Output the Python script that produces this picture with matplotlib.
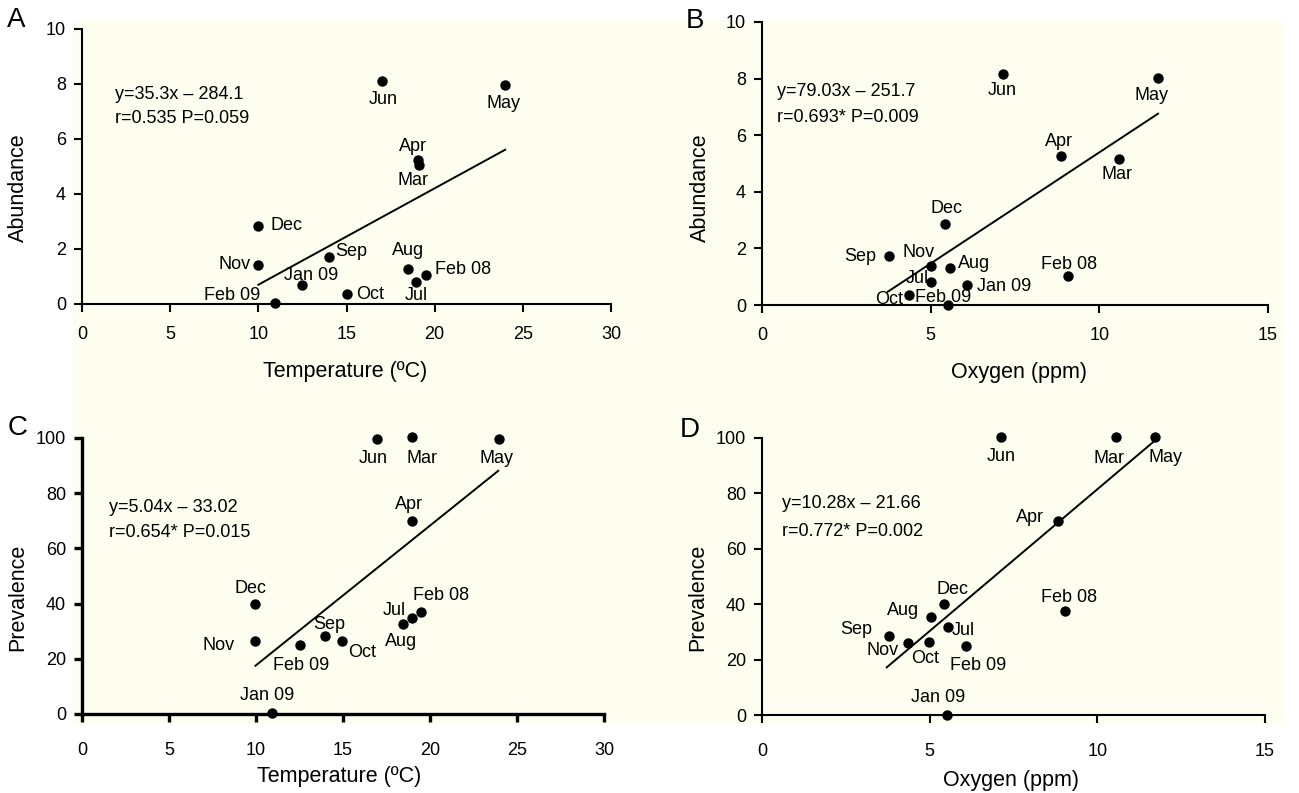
import numpy as np
import matplotlib.pyplot as plt
from matplotlib.patches import Rectangle

plt.rcParams['font.family'] = ['Liberation Sans', 'DejaVu Sans']

# ── Data ─────────────────────────────────────────────────
months = ["Feb 08", "Mar", "Apr", "May", "Jun", "Jul", "Aug",
          "Sep", "Oct", "Nov", "Dec", "Jan 09", "Feb 09"]

temp_abund = [19.5, 19.1, 19.06, 24.0, 17.0, 18.96, 18.5, 14.0, 15.0, 10.0, 10.0, 12.47, 10.96]
abundance_t = [1.05, 5.07, 5.25, 7.95, 8.1, 0.81, 1.27, 1.71, 0.36, 1.41, 2.85, 0.68, 0.02]

oxy_abund = [9.07, 10.58, 8.86, 11.74, 7.13, 5.0, 5.58, 3.76, 4.36, 5.0, 5.42, 6.07, 5.5]
abundance_o = [1.01, 5.15, 5.27, 8.02, 8.18, 0.82, 1.31, 1.74, 0.35, 1.39, 2.85, 0.71, 0.0]

temp_prev = [19.48, 18.98, 18.98, 23.97, 16.98, 18.98, 18.46, 13.98, 14.95, 9.97, 9.97, 10.92, 12.5]
prevalence_t = [37.1, 100.4, 70.0, 99.8, 99.8, 34.8, 32.7, 28.4, 26.5, 26.6, 40.0, 0.4, 25.1]

oxy_prev = [9.05, 10.57, 8.84, 11.73, 7.13, 5.55, 5.04, 3.78, 4.97, 4.35, 5.42, 5.52, 6.09]
prevalence_o = [37.6, 100.4, 69.9, 100.4, 100.4, 31.9, 35.2, 28.4, 26.4, 26.1, 40.0, 0.0, 24.8]

# regression line end points
fit_a = ([10.0, 24.0], [0.70, 5.61])
fit_b = ([3.73, 11.74], [0.47, 6.76])
fit_c = ([9.97, 23.92], [17.5, 88.1])
fit_d = ([3.72, 11.69], [17.2, 98.8])

eq_a = ["y=35.3x \u2013 284.1", "r=0.535 P=0.059"]
eq_b = ["y=79.03x \u2013 251.7", "r=0.693* P=0.009"]
eq_c = ["y=5.04x \u2013 33.02", "r=0.654* P=0.015"]
eq_d = ["y=10.28x \u2013 21.66", "r=0.772* P=0.002"]

# ── Label offsets (pixels) ───────────────────────────────
off_a = {"Jun": (1, -18, "center"), "May": (-2, -18, "center"), "Apr": (-5, 13, "center"),
         "Mar": (-6, -16, "center"), "Dec": (12, 0, "left"), "Nov": (-8, 1, "right"),
         "Sep": (6, 5, "left"), "Jan 09": (9, 10, "center"), "Feb 09": (-15, 8, "right"),
         "Oct": (10, 0, "left"), "Aug": (0, 19, "center"), "Jul": (0, -14, "center"),
         "Feb 08": (9, 6, "left")}
off_b = {"Jun": (0, -17, "center"), "May": (-7, -17, "center"), "Apr": (-2, 14, "center"),
         "Mar": (-2, -15, "center"), "Dec": (2, 16, "center"), "Sep": (-13, -1, "right"),
         "Nov": (-12, 13, "center"), "Aug": (8, 4, "left"), "Jul": (-13, 3, "center"),
         "Jan 09": (10, -2, "left"), "Oct": (-20, -4, "center"), "Feb 09": (-4, 7, "center"),
         "Feb 08": (1, 12, "center")}
off_c = {"Jun": (-4, -20, "center"), "Mar": (10, -22, "center"), "May": (-3, -20, "center"),
         "Apr": (-3, 16, "center"), "Dec": (-5, 15, "center"), "Nov": (-21, -5, "right"),
         "Feb 09": (2, -21, "center"), "Sep": (4, 11, "center"), "Oct": (20, -12, "center"),
         "Jul": (-18, 7, "center"), "Aug": (-2, -18, "center"), "Feb 08": (20, 16, "center"),
         "Jan 09": (-5, 17, "center")}
off_d = {"Jun": (0, -20, "center"), "Mar": (-7, -22, "center"), "May": (10, -21, "center"),
         "Apr": (-28, 4, "center"), "Dec": (9, 15, "center"), "Aug": (-28, 7, "center"),
         "Jul": (15, -4, "center"), "Sep": (-33, 7, "center"), "Nov": (-25, -8, "center"),
         "Oct": (-4, -17, "center"), "Feb 09": (12, -19, "center"), "Feb 08": (4, 13, "center"),
         "Jan 09": (-9, 18, "center")}

W, H = 1299, 793
CREAM = "#fdfdf0"


def px_axes(fig, x0, x1, y_top, y_bot):
    return fig.add_axes([x0 / W, 1 - y_bot / H, (x1 - x0) / W, (y_bot - y_top) / H])


def draw_panel(ax, x, y, fit, eq, offsets, xlim, ylim, xstep, ystep, xlabel, ylabel,
               eq_pos, xlab_pos, ylab_pos, lw=1.5, xpad=10):
    ax.set_facecolor("none")
    ax.scatter(x, y, s=56, color="black", zorder=3, clip_on=False, linewidths=0)
    ax.plot(fit[0], fit[1], color="black", linewidth=1.4)
    for m, xi, yi in zip(months, x, y):
        dx, dy, ha = offsets[m]
        ax.annotate(m, (xi, yi), xytext=(dx, dy), textcoords="offset pixels",
                    ha=ha, va="center", fontsize=13, annotation_clip=False)
    ax.text(eq_pos[0], eq_pos[1], eq[0], transform=ax.transAxes, fontsize=13, va="center")
    ax.text(eq_pos[0], eq_pos[2], eq[1], transform=ax.transAxes, fontsize=13, va="center")

    ax.set_xlim(*xlim)
    ax.set_ylim(*ylim)
    ax.set_xticks(np.arange(xlim[0], xlim[1] + 0.1, xstep))
    ax.set_yticks(np.arange(ylim[0], ylim[1] + 0.1, ystep))
    for s in ("top", "right"):
        ax.spines[s].set_visible(False)
    for s in ("left", "bottom"):
        ax.spines[s].set_linewidth(lw)
    ax.tick_params(axis="x", direction="out", length=5.5, width=lw, labelsize=13, pad=xpad)
    ax.tick_params(axis="y", direction="out", length=5.5, width=lw, labelsize=13, pad=6)

    ax.set_xlabel(xlabel, fontsize=15.5)
    ax.xaxis.label.set_va("center")
    ax.xaxis.set_label_coords(*xlab_pos)
    ax.set_ylabel(ylabel, fontsize=15.5)
    ax.yaxis.label.set_va("center")
    ax.yaxis.set_label_coords(*ylab_pos)


fig = plt.figure(figsize=(W / 100, H / 100), dpi=100)
fig.patches.append(Rectangle((73 / W, 1 - 723 / H), (1283 - 73) / W, (723 - 20) / H,
                             transform=fig.transFigure, facecolor=CREAM,
                             edgecolor="none", zorder=-1))

ax_a = px_axes(fig, 82, 611, 29, 304)
ax_b = px_axes(fig, 762, 1268, 22, 305)
ax_c = px_axes(fig, 82, 604, 438, 714)
ax_d = px_axes(fig, 762, 1265, 438, 715)

draw_panel(ax_a, temp_abund, abundance_t, fit_a, eq_a, off_a, (0, 30), (0, 10), 5, 2,
           "Temperature (\u00baC)", "Abundance", (0.062, 0.762, 0.675),
           (0.498, -0.247), (-0.12, 0.422))
draw_panel(ax_b, oxy_abund, abundance_o, fit_b, eq_b, off_b, (0, 15), (0, 10), 5, 2,
           "Oxygen (ppm)", "Abundance", (0.03, 0.756, 0.664),
           (0.508, -0.237), (-0.1225, 0.413))
draw_panel(ax_c, temp_prev, prevalence_t, fit_c, eq_c, off_c, (0, 30), (0, 100), 5, 20,
           "Temperature (\u00baC)", "Prevalence", (0.052, 0.75, 0.659),
           (0.492, -0.228), (-0.1226, 0.424), lw=2.4, xpad=14.5)
draw_panel(ax_d, oxy_prev, prevalence_o, fit_d, eq_d, off_d, (0, 15), (0, 100), 5, 20,
           "Oxygen (ppm)", "Prevalence", (0.04, 0.762, 0.664),
           (0.495, -0.235), (-0.127, 0.426), xpad=14.5)

for letter, (lx, ly) in zip("ABCD", [(16, 20), (695, 21), (18, 428), (690, 430)]):
    fig.text(lx / W, 1 - ly / H, letter, fontsize=20, ha="center", va="center")

fig.savefig("out.png", dpi=100, facecolor="white")
